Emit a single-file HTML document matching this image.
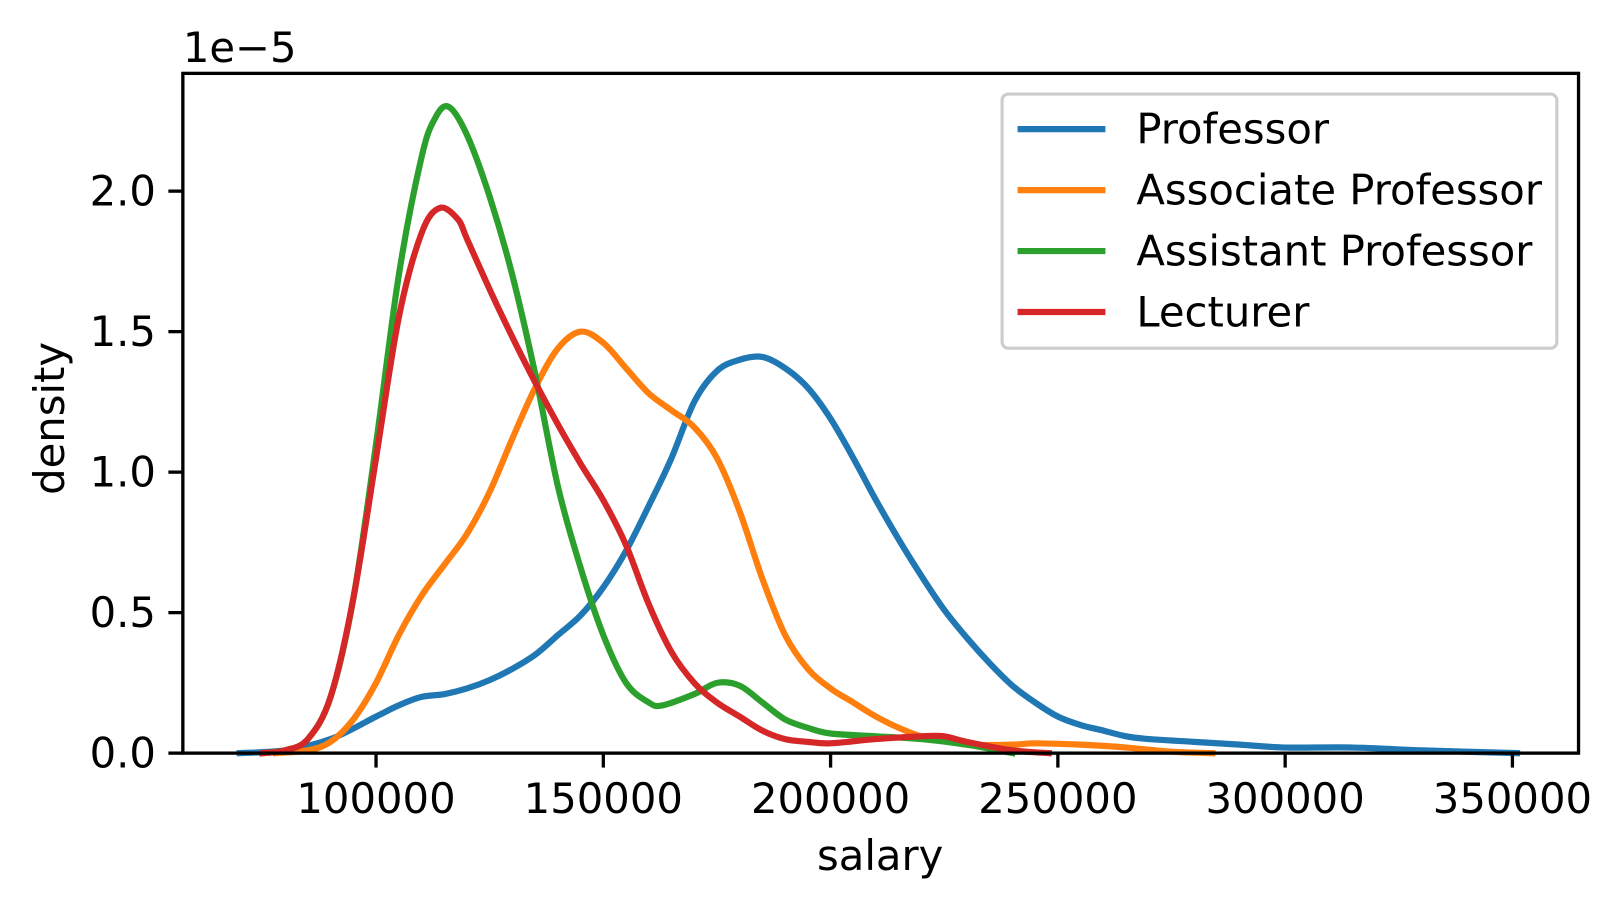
<!DOCTYPE html>
<html><head><meta charset="utf-8"><style>
body{margin:0;background:#fff}
svg{display:block;font-family:"DejaVu Sans","Liberation Sans",sans-serif}
</style></head><body>
<svg id="chart" width="1618" height="908" viewBox="0 0 1566.2 878.9">
<rect x="0" y="0" width="1566.2" height="878.9" fill="#fff"/>
<g id="curves"></g>
<g id="axes"></g>
</svg>
<script>
const seriesNames=["Professor","Associate Professor","Assistant Professor","Lecturer"];
const seriesColors=["#1f77b4","#ff7f0e","#2ca02c","#d62728"];
const profX=[70,80,90,100,105,110,115,120,125,130,135,140,145,150,155,160,165,170,175,180,185,190,195,200,205,210,215,220,225,230,235,240,245,250,255,260,265,270,280,290,300,315,330,351];
const profY=[0,0.01,0.05,0.13,0.17,0.2,0.21,0.23,0.26,0.3,0.35,0.42,0.49,0.59,0.72,0.88,1.05,1.25,1.36,1.40,1.41,1.37,1.30,1.19,1.05,0.90,0.76,0.63,0.51,0.41,0.32,0.24,0.18,0.13,0.10,0.08,0.06,0.05,0.04,0.03,0.02,0.02,0.01,0];
const assocX=[78,85,90,95,100,105,110,115,120,125,130,135,140,145,150,155,160,165,170,175,180,185,190,195,200,205,210,215,220,225,230,240,245,255,265,275,284];
const assocY=[0,0.01,0.04,0.12,0.25,0.42,0.56,0.67,0.78,0.93,1.12,1.30,1.44,1.50,1.46,1.37,1.28,1.22,1.16,1.05,0.86,0.62,0.42,0.30,0.23,0.18,0.13,0.09,0.06,0.05,0.03,0.03,0.035,0.03,0.02,0.005,0];
const asstX=[75,80,85,90,95,100,105,110,113,116,120,125,130,135,140,145,150,155,160,163,170,175,180,185,190,195,200,210,220,230,240];
const asstY=[0,0.01,0.05,0.2,0.55,1.1,1.7,2.12,2.26,2.3,2.2,1.98,1.7,1.35,0.95,0.66,0.42,0.25,0.18,0.17,0.21,0.25,0.24,0.18,0.12,0.09,0.07,0.06,0.05,0.03,0];
const lectX=[75,80,85,90,95,100,105,110,114,118,120,125,130,135,140,145,150,155,160,165,170,175,180,185,190,195,200,210,220,225,230,240,248];
const lectY=[0,0.01,0.05,0.2,0.55,1.05,1.55,1.85,1.94,1.9,1.83,1.65,1.48,1.32,1.17,1.03,0.9,0.74,0.53,0.36,0.25,0.18,0.13,0.08,0.05,0.04,0.035,0.05,0.06,0.06,0.04,0.01,0];
const xTicks=[100000,150000,200000,250000,300000,350000];
const yTicks=[0,0.5,1.0,1.5,2.0];
const yTickLabels=["0.0","0.5","1.0","1.5","2.0"];
const L=177,R=1528,T=71,B=729;
const FS=40.4;
function sx(v){return 364+(v-100000)*0.0044;}
function sy(v){return B-v*272;}
const NS="http://www.w3.org/2000/svg";
function mk(tag,attrs,parent,text){const e=document.createElementNS(NS,tag);for(const k in attrs)e.setAttribute(k,attrs[k]);if(text!==undefined)e.textContent=text;parent.appendChild(e);return e;}
function smoothPath(p){
 let d="M"+p[0][0].toFixed(1)+","+p[0][1].toFixed(1);
 for(let i=0;i<p.length-1;i++){
  const p0=p[i-1]||p[i],p1=p[i],p2=p[i+1],p3=p[i+2]||p[i+1];
  const c1x=p1[0]+(p2[0]-p0[0])/6,c1y=p1[1]+(p2[1]-p0[1])/6;
  const c2x=p2[0]-(p3[0]-p1[0])/6,c2y=p2[1]-(p3[1]-p1[1])/6;
  d+=" C"+c1x.toFixed(1)+","+c1y.toFixed(1)+" "+c2x.toFixed(1)+","+c2y.toFixed(1)+" "+p2[0].toFixed(1)+","+p2[1].toFixed(1);
 }
 return d;
}
const curves=document.getElementById('curves'),axes=document.getElementById('axes');
const data=[[profX,profY],[assocX,assocY],[asstX,asstY],[lectX,lectY]];
const keys=["professor","associate-professor","assistant-professor","lecturer"];
data.forEach((d,i)=>{
 const pts=d[0].map((x,j)=>[sx(x*1000),Math.min(B,sy(d[1][j]))]);
 const p=mk('path',{d:smoothPath(pts),fill:'none',stroke:seriesColors[i],'stroke-width':6,'stroke-linejoin':'round','stroke-linecap':'square'},curves);
 
 
});
const frame=mk('rect',{x:L,y:T,width:R-L,height:B-T,fill:'none',stroke:'#000','stroke-width':3.2},axes);


xTicks.forEach(v=>{
 const x=sx(v);
 mk('line',{x1:x,x2:x,y1:B,y2:B+14,stroke:'#000','stroke-width':3.2},axes);
 const t=mk('text',{x:x,y:B+58,'text-anchor':'middle','font-size':FS},axes,String(v));
 
 
});
yTicks.forEach((v,i)=>{
 const y=sy(v);
 mk('line',{x1:L-14,x2:L,y1:y,y2:y,stroke:'#000','stroke-width':3.2},axes);
 const t=mk('text',{x:L-26,y:y+14,'text-anchor':'end','font-size':FS},axes,yTickLabels[i]);
 
 
});
const off=mk('text',{x:177,y:60,'font-size':FS},axes,"1e\u22125");


const xl=mk('text',{x:852,y:842,'text-anchor':'middle','font-size':FS},axes,"salary");


const yl=mk('text',{x:62,y:405,'text-anchor':'middle','font-size':FS,transform:'rotate(-90 62 405)'},axes,"density");


const lg=mk('g',{},axes);


mk('rect',{x:970,y:91,width:537,height:246,rx:6,fill:'#fff','fill-opacity':0.8,stroke:'#ccc','stroke-width':3},lg);
seriesNames.forEach((n,i)=>{
 const y=125+i*59;
 const e=mk('g',{},lg);
 
 
 mk('line',{x1:985,x2:1070,y1:y,y2:y,stroke:seriesColors[i],'stroke-width':6},e);
 mk('text',{x:1100,y:y+14,'font-size':FS},e,n);
});
</script>
</body></html>
